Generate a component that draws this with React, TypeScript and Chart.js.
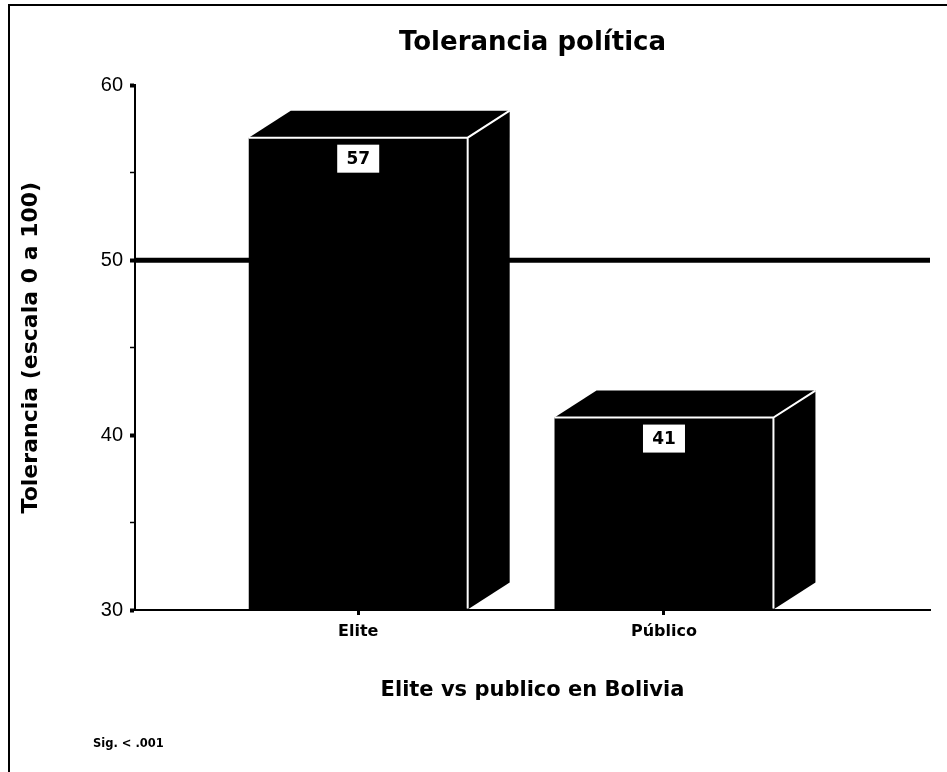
import { useEffect, useRef } from 'react';
import { Chart, registerables } from 'chart.js';

Chart.register(...registerables);

// Data
const categories = ['Elite', 'Público'];
const categoryPositions = [1, 2];
const tolerance = [57, 41];
const referenceLevel = 50;

// Axis settings
const yMin = 30;
const yMax = 60;
const yStep = 5;
const yLabelStep = 10;
const xMin = 0.27;
const xMax = 2.87;

// Texts
const chartTitle = 'Tolerancia política';
const xAxisTitle = 'Elite vs publico en Bolivia';
const yAxisTitle = 'Tolerancia (escala 0 a 100)';
const footnote = 'Sig. < .001';

// Styling
const BOLD = 'DejaVu Sans';
const DEPTH_X = 42;
const DEPTH_Y = 27;
const W = 947;
const H = 772;

const framePlugin = {
  id: 'frame',
  beforeDraw(chart: any) {
    const { ctx } = chart;
    ctx.save();
    ctx.fillStyle = '#ffffff';
    ctx.fillRect(0, 0, chart.width, chart.height);
    ctx.fillStyle = '#000000';
    ctx.fillRect(8, 4, chart.width - 8, 2);
    ctx.fillRect(8, 4, 2, chart.height - 4);
    ctx.restore();
  },
  afterDraw(chart: any) {
    const { ctx } = chart;
    ctx.save();
    ctx.fillStyle = '#000000';
    ctx.font = `bold 11.5px "${BOLD}"`;
    ctx.textAlign = 'left';
    ctx.textBaseline = 'middle';
    ctx.fillText(footnote, 93, 744);
    ctx.restore();
  },
};

const referenceLinePlugin = {
  id: 'referenceLine',
  beforeDatasetsDraw(chart: any) {
    const { ctx, chartArea, scales } = chart;
    const y = scales.y.getPixelForValue(referenceLevel);
    ctx.save();
    ctx.strokeStyle = '#000000';
    ctx.lineWidth = 5;
    ctx.beginPath();
    ctx.moveTo(chartArea.left, y);
    ctx.lineTo(chartArea.right, y);
    ctx.stroke();
    ctx.restore();
  },
};

// Top and side faces, white edges and value boxes for each bar
const boxBarsPlugin = {
  id: 'boxBars',
  afterDatasetsDraw(chart: any) {
    const { ctx } = chart;
    const meta = chart.getDatasetMeta(0);
    meta.data.forEach((bar: any, i: number) => {
      const { x, y, base, width } = bar.getProps(['x', 'y', 'base', 'width'], true);
      const L = x - width / 2;
      const R = x + width / 2;
      const T = y;
      const B = base;
      ctx.save();
      ctx.fillStyle = '#000000';
      ctx.beginPath();
      ctx.moveTo(L, T);
      ctx.lineTo(L + DEPTH_X, T - DEPTH_Y);
      ctx.lineTo(R + DEPTH_X, T - DEPTH_Y);
      ctx.lineTo(R, T);
      ctx.closePath();
      ctx.fill();
      ctx.beginPath();
      ctx.moveTo(R, T);
      ctx.lineTo(R + DEPTH_X, T - DEPTH_Y);
      ctx.lineTo(R + DEPTH_X, B - DEPTH_Y);
      ctx.lineTo(R, B);
      ctx.closePath();
      ctx.fill();

      ctx.strokeStyle = '#ffffff';
      ctx.lineWidth = 2;
      ctx.beginPath();
      ctx.moveTo(L, T);
      ctx.lineTo(R, T);
      ctx.lineTo(R + DEPTH_X, T - DEPTH_Y);
      ctx.moveTo(R, T);
      ctx.lineTo(R, B - 1);
      ctx.stroke();

      const bw = 42;
      const bh = 28;
      const by = T + 7;
      ctx.fillStyle = '#ffffff';
      ctx.fillRect(x - bw / 2, by, bw, bh);
      ctx.fillStyle = '#000000';
      ctx.font = `bold 17px "${BOLD}"`;
      ctx.textAlign = 'center';
      ctx.textBaseline = 'middle';
      ctx.fillText(String(tolerance[i]), x, by + bh / 2 + 1);
      ctx.restore();
    });
  },
};

export default function App() {
  const canvasRef = useRef<HTMLCanvasElement | null>(null);

  useEffect(() => {
    const canvas = canvasRef.current;
    if (!canvas) return;
    const chart = new Chart(canvas, {
      type: 'bar',
      data: {
        datasets: [
          {
            data: categoryPositions.map((x, i) => ({ x, y: tolerance[i] })),
            backgroundColor: '#000000',
            borderWidth: 0,
            base: yMin,
            categoryPercentage: 1,
            barPercentage: 0.716,
          },
        ],
      },
      options: {
        responsive: false,
        animation: false,
        devicePixelRatio: 1,
        layout: { padding: { left: 0, right: 17, top: 0, bottom: 0 } },
        plugins: {
          legend: { display: false },
          tooltip: { enabled: false },
          title: {
            display: true,
            text: chartTitle,
            fullSize: false,
            color: '#000000',
            font: { family: BOLD, weight: 'bold', size: 26 },
            padding: { top: 28, bottom: 26 },
          },
        },
        scales: {
          x: {
            type: 'linear',
            min: xMin,
            max: xMax,
            bounds: 'data',
            offset: false,
            afterBuildTicks: (s: any) => {
              s.ticks = categoryPositions.map((v) => ({ value: v }));
            },
            afterFit: (s: any) => {
              s.height = 162;
            },
            grid: {
              offset: false,
              drawOnChartArea: false,
              drawTicks: true,
              tickLength: 5,
              tickWidth: 3,
              tickColor: '#000000',
            },
            border: { display: true, color: '#000000', width: 2 },
            ticks: {
              callback: (_v: any, i: number) => categories[i],
              color: '#000000',
              font: { family: BOLD, weight: 'bold', size: 16 },
              padding: 7,
              maxRotation: 0,
              autoSkip: false,
            },
            title: {
              display: true,
              text: xAxisTitle,
              color: '#000000',
              font: { family: BOLD, weight: 'bold', size: 21 },
              padding: { top: 0, bottom: 69 },
            },
          },
          y: {
            min: yMin,
            max: yMax,
            afterFit: (s: any) => {
              s.width = 135;
            },
            grid: {
              drawOnChartArea: false,
              drawTicks: true,
              tickLength: 5,
              tickWidth: (c: any) => (c.tick && c.tick.value % yLabelStep === 0 ? 4 : 1.5),
              tickColor: '#000000',
            },
            border: { display: true, color: '#000000', width: 2 },
            ticks: {
              stepSize: yStep,
              callback: (v: any) => (Number(v) % yLabelStep === 0 ? String(v) : ''),
              color: '#000000',
              font: { family: 'Liberation Sans', size: 20 },
              padding: 7,
              autoSkip: false,
            },
            title: {
              display: true,
              text: yAxisTitle,
              color: '#000000',
              font: { family: BOLD, weight: 'bold', size: 22 },
              padding: { top: 18, bottom: 0 },
            },
          },
        },
      } as any,
      plugins: [framePlugin, referenceLinePlugin, boxBarsPlugin],
    });
    return () => chart.destroy();
  }, []);

  return (
    <div style={{ position: 'absolute', left: 0, top: 0, width: W, height: H, background: '#fff' }}>
      <canvas ref={canvasRef} width={W} height={H} style={{ display: 'block' }} />
    </div>
  );
}
